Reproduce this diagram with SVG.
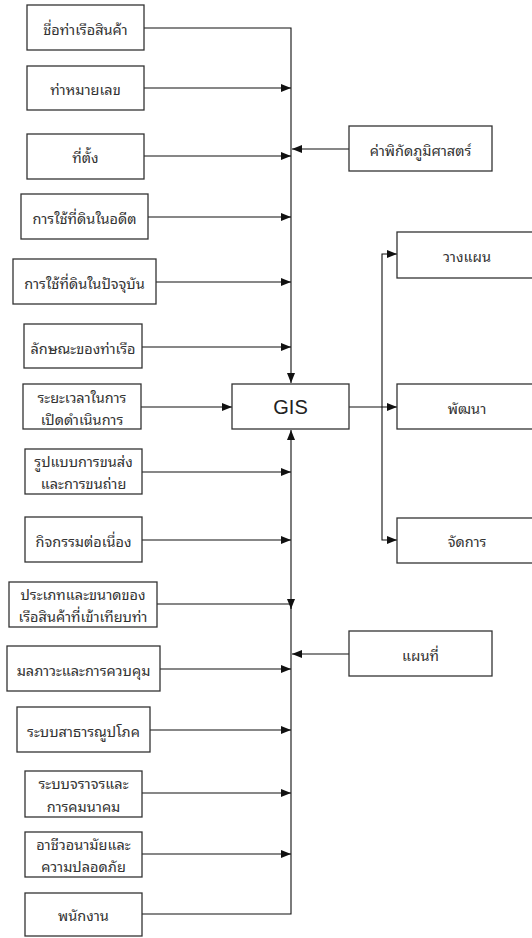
<svg xmlns="http://www.w3.org/2000/svg" width="532" height="938" viewBox="0 0 532 938">
<style>
.box{fill:#fff;stroke:#333;stroke-width:1.3}
.t{font-family:"Noto Sans Thai Looped","Tahoma","Noto Sans Thai","Liberation Sans","DejaVu Sans",sans-serif;font-size:14.5px;fill:#333;text-anchor:middle;dominant-baseline:central}
.g{font-family:"Liberation Sans",Arial,sans-serif;font-size:20px;fill:#222;text-anchor:middle;dominant-baseline:central}
.c{fill:none;stroke:#111;stroke-width:1.1}
</style>
<defs>
<marker id="ah" viewBox="0 0 10 8" refX="10" refY="4" markerWidth="10" markerHeight="8" markerUnits="userSpaceOnUse" orient="auto">
<path d="M0,0 L10,4 L0,8 Z" fill="#111"/>
</marker>
</defs>
<rect width="532" height="938" fill="#fff"/>
<g id="connectors">
<path class="c" d="M144,28 H291 V383" marker-end="url(#ah)"/>
<path class="c" d="M144,88 H291" marker-end="url(#ah)"/>
<path class="c" d="M144,156 H291" marker-end="url(#ah)"/>
<path class="c" d="M148,217 H291" marker-end="url(#ah)"/>
<path class="c" d="M156,282 H291" marker-end="url(#ah)"/>
<path class="c" d="M142,347 H291" marker-end="url(#ah)"/>
<path class="c" d="M141,407 H232" marker-end="url(#ah)"/>
<path class="c" d="M142,472 H291" marker-end="url(#ah)"/>
<path class="c" d="M142,540 H291" marker-end="url(#ah)"/>
<path class="c" d="M157,604 H291 V609" marker-end="url(#ah)"/>
<path class="c" d="M160,669 H291" marker-end="url(#ah)"/>
<path class="c" d="M150,730 H291" marker-end="url(#ah)"/>
<path class="c" d="M142,793 H291" marker-end="url(#ah)"/>
<path class="c" d="M142,854 H291" marker-end="url(#ah)"/>
<path class="c" d="M142,914 H291 V430" marker-end="url(#ah)"/>
<path class="c" d="M349,149 H292" marker-end="url(#ah)"/>
<path class="c" d="M349,654 H292" marker-end="url(#ah)"/>
<path class="c" d="M349,407 H397" marker-end="url(#ah)"/>
<path class="c" d="M382,407 V254 H397" marker-end="url(#ah)"/>
<path class="c" d="M382,407 V540 H397" marker-end="url(#ah)"/>
</g>
<g id="n1"><rect class="box" x="27" y="5" width="117" height="45"/><text class="t" x="85.5" y="28">ชื่อท่าเรือสินค้า</text></g>
<g id="n2"><rect class="box" x="27" y="66" width="117" height="44"/><text class="t" x="85.5" y="88">ท่าหมายเลข</text></g>
<g id="n3"><rect class="box" x="27" y="134" width="117" height="45"/><text class="t" x="85.5" y="156">ที่ตั้ง</text></g>
<g id="n4"><rect class="box" x="21" y="194" width="127" height="45"/><text class="t" x="84.5" y="217">การใช้ที่ดินในอดีต</text></g>
<g id="n5"><rect class="box" x="13" y="259" width="143" height="45"/><text class="t" x="84.5" y="282">การใช้ที่ดินในปัจจุบัน</text></g>
<g id="n6"><rect class="box" x="24" y="324" width="118" height="44"/><text class="t" x="83" y="347">ลักษณะของท่าเรือ</text></g>
<g id="n7"><rect class="box" x="23" y="384" width="118" height="45"/><text class="t" x="82" y="396">ระยะเวลาในการ</text><text class="t" x="82" y="418">เปิดดำเนินการ</text></g>
<g id="n8"><rect class="box" x="25" y="449" width="117" height="45"/><text class="t" x="83.5" y="460">รูปแบบการขนส่ง</text><text class="t" x="83.5" y="482">และการขนถ่าย</text></g>
<g id="n9"><rect class="box" x="25" y="517" width="117" height="45"/><text class="t" x="83.5" y="540">กิจกรรมต่อเนื่อง</text></g>
<g id="n10"><rect class="box" x="9" y="582" width="148" height="45"/><text class="t" x="83" y="593">ประเภทและขนาดของ</text><text class="t" x="83" y="615">เรือสินค้าที่เข้าเทียบท่า</text></g>
<g id="n11"><rect class="box" x="7" y="646" width="153" height="45"/><text class="t" x="83.5" y="669">มลภาวะและการควบคุม</text></g>
<g id="n12"><rect class="box" x="17" y="707" width="133" height="45"/><text class="t" x="83.5" y="730">ระบบสาธารณูปโภค</text></g>
<g id="n13"><rect class="box" x="25" y="771" width="117" height="46"/><text class="t" x="83.5" y="782">ระบบจราจรและ</text><text class="t" x="83.5" y="805">การคมนาคม</text></g>
<g id="n14"><rect class="box" x="25" y="832" width="117" height="45"/><text class="t" x="83.5" y="843">อาชีวอนามัยและ</text><text class="t" x="83.5" y="865">ความปลอดภัย</text></g>
<g id="n15"><rect class="box" x="25" y="893" width="117" height="43"/><text class="t" x="83.5" y="914">พนักงาน</text></g>
<g id="gis"><rect class="box" x="232" y="384" width="117" height="45"/><text class="g" x="290.5" y="407">GIS</text></g>
<g id="coord"><rect class="box" x="349" y="126" width="143" height="45"/><text class="t" x="420.5" y="149">ค่าพิกัดภูมิศาสตร์</text></g>
<g id="map"><rect class="box" x="349" y="631" width="143" height="45"/><text class="t" x="420.5" y="654">แผนที่</text></g>
<g id="plan"><rect class="box" x="397" y="232" width="142" height="46"/><text class="t" x="467" y="255">วางแผน</text></g>
<g id="develop"><rect class="box" x="397" y="384" width="142" height="45"/><text class="t" x="467" y="407">พัฒนา</text></g>
<g id="manage"><rect class="box" x="397" y="518" width="142" height="45"/><text class="t" x="467" y="540">จัดการ</text></g>
</svg>
